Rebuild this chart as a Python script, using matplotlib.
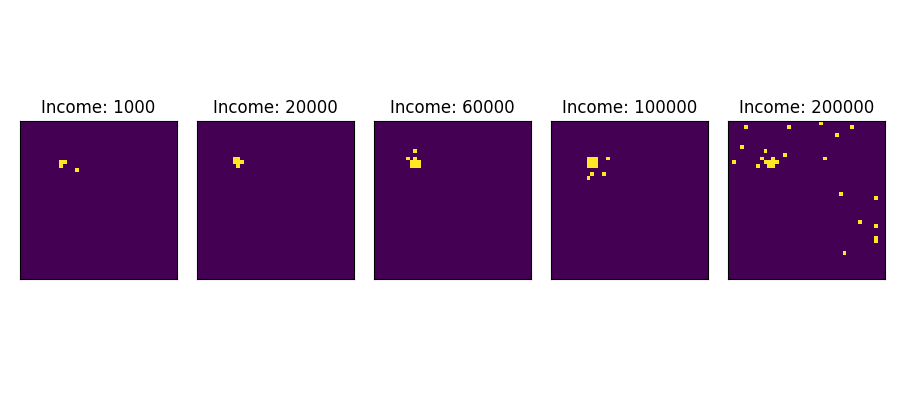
import matplotlib
matplotlib.use('Agg')
import matplotlib.pyplot as plt
import numpy as np

grid_size = 40

incomes = [1000, 20000, 60000, 100000, 200000]

# occupied cells (row, col) for each income level
cells_1000 = [(10, 10), (10, 11), (11, 10), (12, 14)]
cells_20000 = [(9, 9), (9, 10), (10, 9), (10, 10), (10, 11), (11, 10)]
cells_60000 = [(7, 10), (9, 8), (9, 10),
               (10, 9), (10, 10), (10, 11),
               (11, 9), (11, 10), (11, 11)]
cells_100000 = [(9, 9), (9, 10), (9, 11),
                (10, 9), (10, 10), (10, 11),
                (11, 9), (11, 10), (11, 11),
                (9, 14), (13, 10), (13, 13), (14, 9)]
cells_200000 = [(0, 23), (1, 4), (1, 15), (1, 31), (3, 27), (6, 3),
                (7, 9), (8, 14), (9, 8), (9, 11), (9, 24),
                (10, 1), (10, 9), (10, 10), (10, 11), (10, 12),
                (11, 7), (11, 10), (11, 11),
                (18, 28), (19, 37), (25, 33), (26, 37),
                (29, 37), (30, 37), (33, 29)]

all_cells = [cells_1000, cells_20000, cells_60000, cells_100000, cells_200000]


def make_grid(cells):
    grid = np.zeros((grid_size, grid_size))
    for r, c in cells:
        grid[r, c] = 1
    return grid


fig, axes = plt.subplots(1, 5, figsize=(9, 4), dpi=100)
fig.subplots_adjust(left=0.0222, right=0.9833, top=0.9, bottom=0.1, wspace=0.127)

for ax, income, cells in zip(axes, incomes, all_cells):
    ax.imshow(make_grid(cells), cmap='viridis', vmin=0, vmax=1)
    ax.set_title(f'Income: {income}')
    ax.set_xticks([])
    ax.set_yticks([])

plt.savefig('out.png')
